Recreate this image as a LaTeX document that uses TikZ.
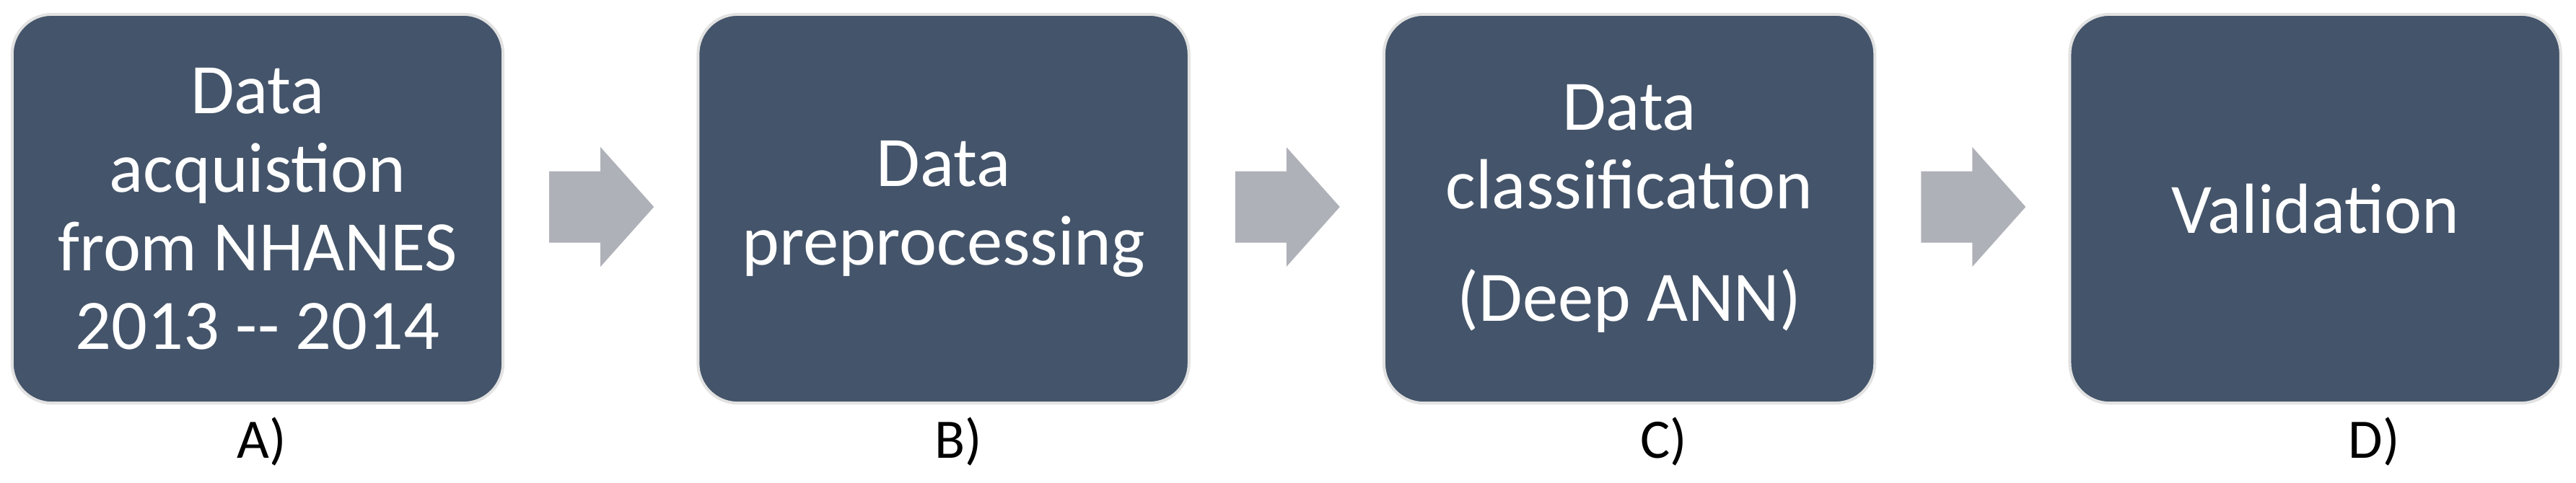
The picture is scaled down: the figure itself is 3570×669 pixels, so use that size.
\documentclass[tikz,border=0pt]{standalone}
\usepackage{fontspec}
\setmainfont{Carlito}[Ligatures=TeXOff]
\usetikzlibrary{positioning,calc}
\definecolor{boxblue}{HTML}{44546A}
\definecolor{boxedge}{HTML}{E2E2E2}
\definecolor{flowgray}{HTML}{AFB1B8}

\begin{document}
\begin{tikzpicture}[x=0.01cm,y=-0.01cm,
        stage/.style={rectangle, rounded corners=0.55cm, fill=boxblue, draw=boxedge,
            line width=0.04cm, outer sep=0pt, inner sep=0pt,
            minimum width=6.8cm, minimum height=5.39cm,
            text=white, align=center, font=\fontsize{28}{31}\selectfont},
        flow/.style={fill=flowgray},
        tag/.style={anchor=base, font=\fontsize{22}{26}\selectfont}
    ]
        \useasboundingbox (0,0) rectangle (3570,669);
        % the four stages
        \node[stage] (acq) at (357,289.5) {Data\\acquistion\\from NHANES\\2013 -- 2014};
        \node[stage, right=2.7cm of acq] (prep) {Data\\preprocessing};
        \node[stage, right=2.7cm of prep] (clf) {Data\\classification\\[0.47cm](Deep ANN)};
        \node[stage, right=2.7cm of clf] (val) {Validation};
        % block arrows
        \fill[flow] ($(acq.east)+(64,-52)$) -- ++(71,0) -- ++(0,-33.5) -- ($(acq.east)+(209,-2.5)$)
            -- ($(acq.east)+(135,80.5)$) -- ++(0,-33.5) -- ($(acq.east)+(64,47)$) -- cycle;
        \fill[flow] ($(prep.east)+(64,-52)$) -- ++(71,0) -- ++(0,-33.5) -- ($(prep.east)+(209,-2.5)$)
            -- ($(prep.east)+(135,80.5)$) -- ++(0,-33.5) -- ($(prep.east)+(64,47)$) -- cycle;
        \fill[flow] ($(clf.east)+(64,-52)$) -- ++(71,0) -- ++(0,-33.5) -- ($(clf.east)+(209,-2.5)$)
            -- ($(clf.east)+(135,80.5)$) -- ++(0,-33.5) -- ($(clf.east)+(64,47)$) -- cycle;
        % letters under the stages
        \node[tag] (ta) at (363,635) {A)};
        \node[tag] (tb) at (1328,635) {B)};
        \node[tag] (tc) at (2306,635) {C)};
        \node[tag] (td) at (3290,635) {D)};
    \end{tikzpicture}
\end{document}
